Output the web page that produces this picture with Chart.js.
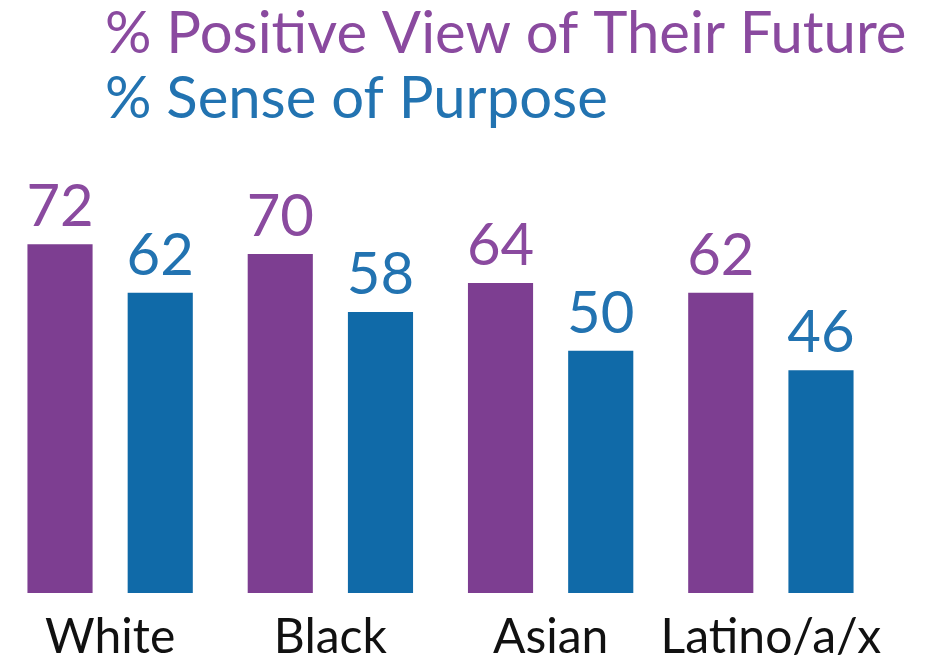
<!DOCTYPE html>
<html>
<head>
<meta charset="utf-8">
<script src="https://cdn.jsdelivr.net/npm/chart.js@4.4.1/dist/chart.umd.min.js"></script>
<style>
html,body{margin:0;padding:0;background:#fff;}
canvas{display:block;}
</style>
</head>
<body>
<canvas id="c" width="931" height="663"></canvas>
<script>
const categories = ["White", "Black", "Asian", "Latino/a/x"];
const seriesNames = ["% Positive View of Their Future", "% Sense of Purpose"];
const positiveView = [72, 70, 64, 62];
const senseOfPurpose = [62, 58, 50, 46];

const barPurple = "#7D3E91";
const barBlue = "#106AA8";
const textPurple = "#8A4A9F";
const textBlue = "#2273B1";
const FONT = "Lato, 'Open Sans', sans-serif";

const legendTextPlugin = {
  id: "legendText",
  afterDraw(chart) {
    const ctx = chart.ctx;
    ctx.save();
    ctx.textBaseline = "alphabetic";
    ctx.textAlign = "left";
    ctx.font = "58px " + FONT;
    ctx.fillStyle = textPurple;
    ctx.fillText(seriesNames[0], 105, 53);
    ctx.fillStyle = textBlue;
    ctx.fillText(seriesNames[1], 105, 118);
    ctx.restore();
  }
};

const valueLabelPlugin = {
  id: "valueLabels",
  afterDatasetsDraw(chart) {
    const ctx = chart.ctx;
    ctx.save();
    ctx.textAlign = "center";
    ctx.textBaseline = "alphabetic";
    ctx.font = "58px " + FONT;
    chart.data.datasets.forEach((ds, i) => {
      const meta = chart.getDatasetMeta(i);
      ctx.fillStyle = i === 0 ? textPurple : textBlue;
      meta.data.forEach((bar, j) => {
        ctx.fillText(String(ds.data[j]), bar.x, bar.y - 18);
      });
    });
    ctx.restore();
  }
};

new Chart(document.getElementById("c"), {
  type: "bar",
  data: {
    labels: categories,
    datasets: [
      { label: seriesNames[0], data: positiveView, backgroundColor: barPurple },
      { label: seriesNames[1], data: senseOfPurpose, backgroundColor: barBlue }
    ]
  },
  options: {
    responsive: false,
    animation: false,
    layout: { padding: { left: 0, right: 50, top: 157, bottom: -20 } },
    datasets: { bar: { barPercentage: 0.65, categoryPercentage: 0.91 } },
    plugins: {
      legend: { display: false },
      tooltip: { enabled: false },
      title: { display: false }
    },
    scales: {
      x: {
        grid: { display: false, drawTicks: false },
        border: { display: false },
        ticks: {
          color: "#111111",
          font: { family: FONT, size: 48, lineHeight: 1.0 },
          padding: 21,
          maxRotation: 0,
          autoSkip: false
        }
      },
      y: {
        display: false,
        min: 0,
        max: 90
      }
    }
  },
  plugins: [legendTextPlugin, valueLabelPlugin]
});
</script>
</body>
</html>
